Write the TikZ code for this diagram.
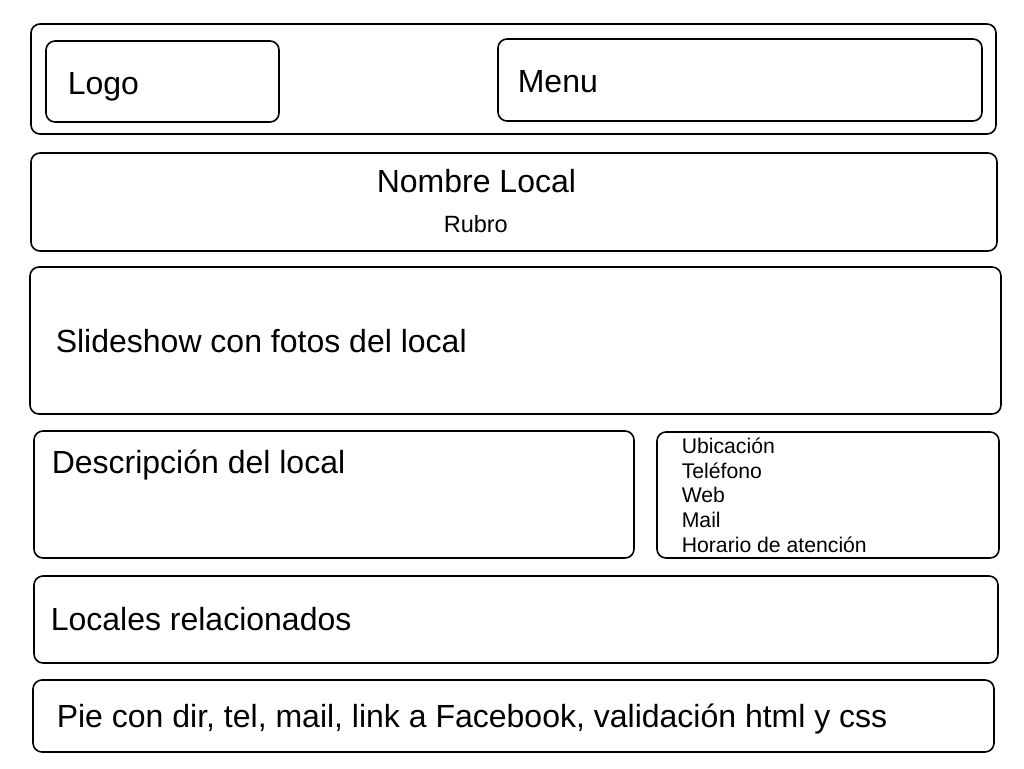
\documentclass[tikz,border=0pt]{standalone}
\usepackage{fontspec}
\setmainfont{Liberation Sans}

\begin{document}
\begin{tikzpicture}[x=1pt, y=-1pt, line width=1.6pt,
        panel/.style={draw, rounded corners=9pt},
        big/.style={anchor=base west, inner sep=0pt, font=\fontsize{32}{38}\selectfont},
        mid/.style={anchor=base west, inner sep=0pt, font=\fontsize{23.5}{28}\selectfont},
        small/.style={anchor=base west, inner sep=0pt, align=left, font=\fontsize{21.2}{24.6}\selectfont}]
            \useasboundingbox (0, 0) rectangle (1024, 768);
            % header
            \draw[panel] (31, 24) rectangle (996, 134);
            \draw[panel] (46, 41) rectangle (279, 122);
            \draw[panel] (498, 39) rectangle (982, 121);
            \node[big] (logo) at (67, 94) {Logo};
            \node[big] (menu) at (517, 92) {Menu};
            % name of the place
            \draw[panel] (31, 153) rectangle (997, 251);
            \node[big] (nombre) at (376, 192) {Nombre Local};
            \node[mid] (rubro) at (443, 232) {Rubro};
            % slideshow
            \draw[panel] (30, 267) rectangle (1001, 414);
            \node[big] (slides) at (55, 352) {Slideshow con fotos del local};
            % description and contact data
            \draw[panel] (34, 431) rectangle (634, 558);
            \node[big] (desc) at (51, 473) {Descripción del local};
            \draw[panel] (657, 432) rectangle (999, 558);
            \node[small] (datos) at (681, 552) {Ubicación\\Teléfono\\Web\\Mail\\Horario de atención};
            % related places
            \draw[panel] (34, 576) rectangle (998, 663);
            \node[big] (relacionados) at (50, 630) {Locales relacionados};
            % footer
            \draw[panel] (33, 680) rectangle (994, 752);
            \node[big] (pie) at (56, 727) {Pie con dir, tel, mail, link a Facebook, validación html y css};
        \end{tikzpicture}
\end{document}
